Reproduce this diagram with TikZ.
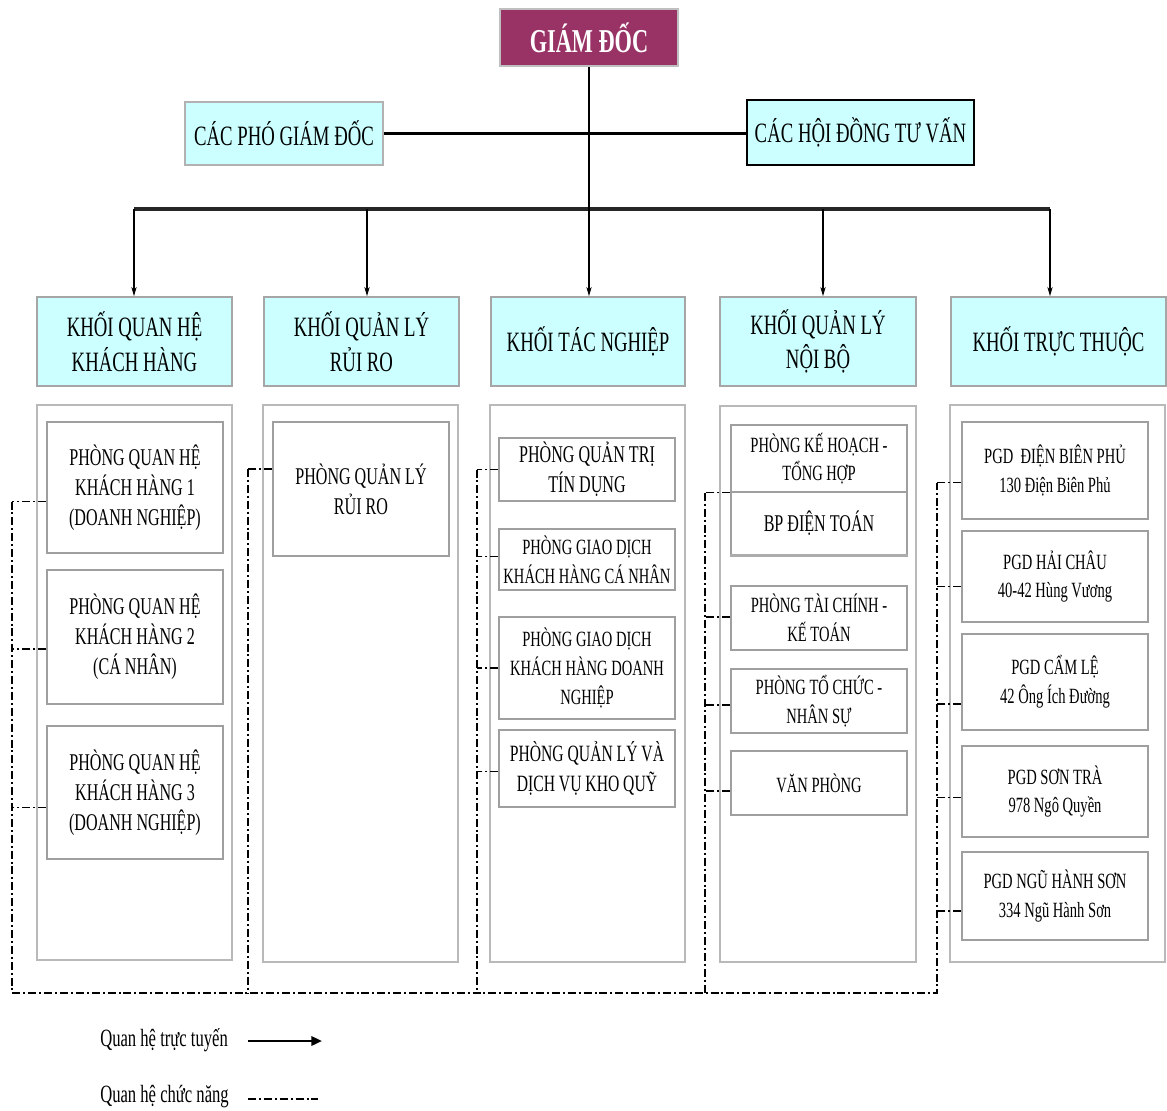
\documentclass[tikz,border=0pt]{standalone}
\usepackage{fontspec}
\setmainfont{Liberation Serif}[FakeStretch=0.67]
\usetikzlibrary{
  arrows.meta,
  calc,         % Offsets $...$
}
\definecolor{gdmaroon}{HTML}{993366}
\definecolor{khoicyan}{HTML}{CCFFFF}
\def\mypx{0.75pt}
\newcommand{\fsgd}   {\fontsize{25}{30}\selectfont}
\newcommand{\fshead} {\fontsize{21}{26}\selectfont}
\newcommand{\fsroom} {\fontsize{18}{22.5}\selectfont}
\newcommand{\fsmid}  {\fontsize{17.5}{22}\selectfont}
\newcommand{\fssmall}{\fontsize{16.3}{21.5}\selectfont}
\newcommand{\fsnote} {\fontsize{18.6}{22}\selectfont}
\tikzset{
  box at/.style n args={4}{
    at={({(#1+#3)/2},{(#2+#4)/2})},
    minimum width={(#3-#1)*\mypx},
    minimum height={(#4-#2)*\mypx}
  },
  my director/.style={
    draw=gray!50,
    line width=1pt,
    fill=gdmaroon,
    text=white,
    font=\fsgd\bfseries,
    inner sep=0pt
  },
  my head/.style={
    draw=gray!60,
    line width=1.2pt,
    fill=khoicyan,
    font=\fshead,
    align=center,
    inner sep=0pt
  },
  my council/.style={
    draw=black,
    line width=1.8pt
  },
  my khoi/.style={
    my head,
    draw=gray!70
  },
  my group/.style={
    draw=gray!55,
    line width=1.3pt
  },
  my room/.style={
    draw=gray!75,
    line width=1.2pt,
    font=\fsroom,
    align=center,
    inner sep=0pt
  },
  my note/.style={
    font=\fsnote,
    inner sep=0pt
  },
  my link/.style={line width=2pt},
  my bus/.style={line width=2.3pt, black!85},
  my arrow/.style={-{Stealth[length=7pt,width=4pt]}, line width=0.9pt},
  my legend arrow/.style={-{Triangle[length=8pt,width=7pt]}, line width=1.8pt},
  my func/.style={
    line width=1pt,
    dash pattern=on 6pt off 2.2pt on 1.5pt off 2.2pt
  }
}

\begin{document}
\begin{tikzpicture}[x=\mypx,y=-\mypx]
\useasboundingbox (0,0) rectangle (1167,1110);
% top level
\node[my director, box at={500}{9}{678}{66}] (gd) {GIÁM ĐỐC};
\node[my head, box at={185}{102}{383}{165}] (vice) {CÁC PHÓ GIÁM ĐỐC};
\node[my head, my council, box at={747}{100}{974}{165}] (council) {CÁC HỘI ĐỒNG TƯ VẤN};
% khoi
\node[my khoi, box at={37}{297}{232}{386}]   (k1) {KHỐI QUAN HỆ\\KHÁCH HÀNG};
\node[my khoi, box at={264}{297}{459}{386}]  (k2) {KHỐI QUẢN LÝ\\RỦI RO};
\node[my khoi, box at={491}{297}{685}{386}]  (k3) {KHỐI TÁC NGHIỆP};
\node[my khoi, box at={720}{297}{916}{386}]  (k4) {KHỐI QUẢN LÝ\\NỘI BỘ};
\node[my khoi, box at={951}{297}{1166}{386}] (k5) {KHỐI TRỰC THUỘC};
% groups
\node[my group, box at={37}{405}{232}{960}]   (g1) {};
\node[my group, box at={263}{405}{458}{962}]  (g2) {};
\node[my group, box at={490}{405}{685}{962}]  (g3) {};
\node[my group, box at={720}{406}{916}{962}]  (g4) {};
\node[my group, box at={950}{405}{1165}{962}] (g5) {};
% rooms
\node[my room, box at={47}{422}{223}{553}] (r11) {PHÒNG QUAN HỆ\\KHÁCH HÀNG 1\\(DOANH NGHIỆP)};
\node[my room, box at={47}{570}{223}{704}] (r12) {PHÒNG QUAN HỆ\\KHÁCH HÀNG 2\\(CÁ NHÂN)};
\node[my room, box at={47}{726}{223}{859}] (r13) {PHÒNG QUAN HỆ\\KHÁCH HÀNG 3\\(DOANH NGHIỆP)};
\node[my room, box at={273}{422}{449}{556}] (r21) {PHÒNG QUẢN LÝ\\RỦI RO};
\node[my room, box at={499}{438}{675}{501}] (r31) {PHÒNG QUẢN TRỊ\\TÍN DỤNG};
\node[my room, font=\fssmall, box at={499}{529}{675}{590}] (r32) {PHÒNG GIAO DỊCH\\KHÁCH HÀNG CÁ NHÂN};
\node[my room, font=\fssmall, box at={499}{617}{675}{719}] (r33) {PHÒNG GIAO DỊCH\\KHÁCH HÀNG DOANH\\NGHIỆP};
\node[my room, font=\fsmid, box at={499}{730}{675}{807}] (r34) {PHÒNG QUẢN LÝ VÀ\\DỊCH VỤ KHO QUỸ};
\node[my room, font=\fssmall, box at={731}{425}{907}{492}] (r41) {PHÒNG KẾ HOẠCH -\\TỔNG HỢP};
\node[my room, box at={731}{492}{907}{555}] (r42) {BP ĐIỆN TOÁN};
\node[my room, font=\fssmall, box at={731}{586}{907}{650}] (r43) {PHÒNG TÀI CHÍNH -\\KẾ TOÁN};
\node[my room, font=\fssmall, box at={731}{669}{907}{733}] (r44) {PHÒNG TỔ CHỨC -\\NHÂN SỰ};
\node[my room, font=\fssmall, box at={731}{751}{907}{815}] (r45) {VĂN PHÒNG};
\node[my room, font=\fssmall, box at={962}{422}{1148}{519}] (r51) {PGD\ \ ĐIỆN BIÊN PHỦ\\130 Điện Biên Phủ};
\node[my room, font=\fssmall, box at={962}{531}{1148}{622}] (r52) {PGD HẢI CHÂU\\40-42 Hùng Vương};
\node[my room, font=\fssmall, box at={962}{634}{1148}{730}] (r53) {PGD CẨM LỆ\\42 Ông Ích Đường};
\node[my room, font=\fssmall, box at={962}{746}{1148}{837}] (r54) {PGD SƠN TRÀ\\978 Ngô Quyền};
\node[my room, font=\fssmall, box at={962}{852}{1148}{940}] (r55) {PGD NGŨ HÀNH SƠN\\334 Ngũ Hành Sơn};
\draw[gray!65, line width=2pt] (r42.south west) -- (r42.south east);
% line relations
\coordinate (b1) at (134,209);
\coordinate (b2) at (367,209);
\coordinate (b4) at (823,209);
\coordinate (b5) at (1050,209);
\draw[my link] (vice.east) -- (vice.east -| council.west);
\draw[my bus] (b1) -- (b5);
\draw[my arrow] (gd.south) -- (gd.south |- k3.north);
\foreach \i in {1,2,4,5}
  \draw[my arrow] (b\i) -- (b\i |- k\i.north);
% functional relations
\coordinate (f1) at (12,993);
\coordinate (f2) at (248,993);
\coordinate (f3) at (477,993);
\coordinate (f4) at (705,993);
\coordinate (f5) at (937,993);
\foreach \r/\dy/\f in {r11/14/f1, r12/12/f1, r13/15/f1, r21/-20/f2,
    r31/0/f3, r32/-3/f3, r33/0/f3, r34/3/f3,
    r43/-1/f4, r44/4/f4, r45/8/f4,
    r51/12/f5, r52/10/f5, r53/22/f5, r54/6/f5, r55/15/f5}
  \draw[my func] ($(\r.west)+(0,\dy)$) coordinate (s-\r) -- (s-\r -| \f);
\draw[my func] (r41.south west) coordinate (s-r41) -- (s-r41 -| f4);
\draw[my func] (f1 |- s-r11) -- (f1) -- (f5) -- (f5 |- s-r51);
\draw[my func] (f2 |- s-r21) -- (f2);
\draw[my func] (f3 |- s-r31) -- (f3);
\draw[my func] (f4 |- s-r41) -- (f4);
% legend
\node[my note, anchor=west] (lg1) at (100,1040) {Quan hệ trực tuyến};
\node[my note, anchor=west] (lg2) at (100,1097) {Quan hệ chức năng};
\coordinate (a1) at (248,1041);
\coordinate (a2) at (322,1041);
\coordinate (c1) at (248,1099);
\coordinate (c2) at (318,1099);
\draw[my legend arrow] (a1) -- (a2);
\draw[my func] (c1) -- (c2);
\end{tikzpicture}
\end{document}
